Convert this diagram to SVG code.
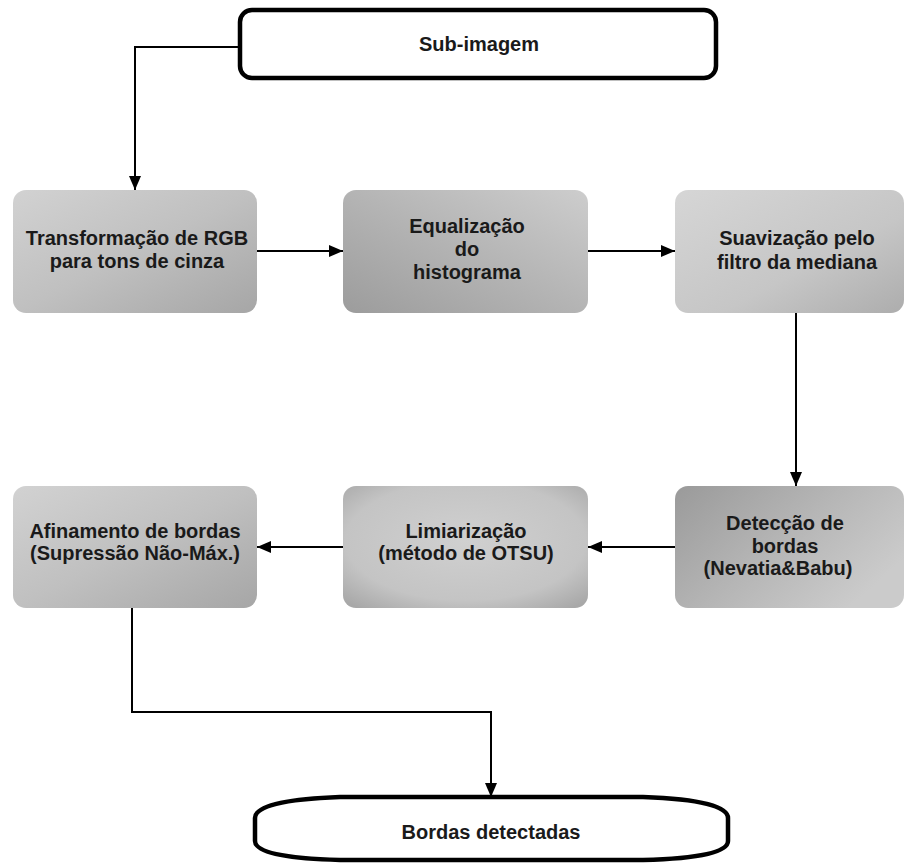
<svg xmlns="http://www.w3.org/2000/svg" width="907" height="863" viewBox="0 0 907 863">
<style>
  .lbl { font-family: "Liberation Sans", Arial, sans-serif; font-weight: bold; font-size: 20px; fill: #1a1a1a; text-anchor: middle; }
  .term { fill: #ffffff; stroke: #000000; stroke-width: 4.5; }
  .conn { fill: none; stroke: #000000; stroke-width: 2; }
</style>
<defs>
  <marker id="arr" viewBox="0 0 14 12" refX="14" refY="6" markerWidth="14" markerHeight="12" markerUnits="userSpaceOnUse" orient="auto">
    <path d="M0,0 L14,6 L0,12 Z" fill="#000000"/>
  </marker>
  <linearGradient id="gA" x1="0" y1="0" x2="1" y2="1">
    <stop offset="0" stop-color="#d2d2d2"/>
    <stop offset="0.5" stop-color="#c0c0c0"/>
    <stop offset="1" stop-color="#a6a6a6"/>
  </linearGradient>
  <linearGradient id="gB" x1="0" y1="1" x2="1" y2="0">
    <stop offset="0" stop-color="#9c9c9c"/>
    <stop offset="0.5" stop-color="#b4b4b4"/>
    <stop offset="1" stop-color="#cdcdcd"/>
  </linearGradient>
  <linearGradient id="gC" x1="0" y1="0" x2="1" y2="1">
    <stop offset="0" stop-color="#d6d6d6"/>
    <stop offset="0.6" stop-color="#c6c6c6"/>
    <stop offset="1" stop-color="#adadad"/>
  </linearGradient>
  <radialGradient id="gD" cx="0.5" cy="0.45" r="0.7">
    <stop offset="0" stop-color="#d0d0d0"/>
    <stop offset="0.7" stop-color="#c4c4c4"/>
    <stop offset="1" stop-color="#a8a8a8"/>
  </radialGradient>
  <linearGradient id="gE" x1="0" y1="0" x2="1" y2="0.6">
    <stop offset="0" stop-color="#9a9a9a"/>
    <stop offset="0.55" stop-color="#b6b6b6"/>
    <stop offset="1" stop-color="#cbcbcb"/>
  </linearGradient>
</defs>
<rect x="0" y="0" width="907" height="863" fill="#ffffff"/>

<g id="connectors">
  <path class="conn" d="M238,47 L135,47 L135,190" marker-end="url(#arr)"/>
  <path class="conn" d="M257,251 L343,251" marker-end="url(#arr)"/>
  <path class="conn" d="M588,251 L675,251" marker-end="url(#arr)"/>
  <path class="conn" d="M796,313 L796,486" marker-end="url(#arr)"/>
  <path class="conn" d="M675,547 L588,547" marker-end="url(#arr)"/>
  <path class="conn" d="M343,547 L257,547" marker-end="url(#arr)"/>
  <path class="conn" d="M132,608 L132,712 L491,712 L491,797" marker-end="url(#arr)"/>
</g>

<g id="n-subimagem">
  <rect class="term" x="240" y="10" width="476" height="68" rx="12" ry="12"/>
  <text class="lbl" x="479" y="51">Sub-imagem</text>
</g>

<g id="n-transformacao">
  <rect x="13" y="190" width="244" height="123" rx="13" ry="13" fill="url(#gA)"/>
  <text class="lbl" x="137" y="245">Transformação de RGB</text>
  <text class="lbl" x="137" y="268">para tons de cinza</text>
</g>

<g id="n-equalizacao">
  <rect x="343" y="190" width="245" height="123" rx="13" ry="13" fill="url(#gB)"/>
  <text class="lbl" x="467" y="233">Equalização</text>
  <text class="lbl" x="467" y="256">do</text>
  <text class="lbl" x="467" y="279">histograma</text>
</g>

<g id="n-suavizacao">
  <rect x="675" y="190" width="229" height="123" rx="13" ry="13" fill="url(#gC)"/>
  <text class="lbl" x="797" y="245">Suavização pelo</text>
  <text class="lbl" x="797" y="269">filtro da mediana</text>
</g>

<g id="n-afinamento">
  <rect x="13" y="486" width="244" height="122" rx="13" ry="13" fill="url(#gA)"/>
  <text class="lbl" x="135" y="538">Afinamento de bordas</text>
  <text class="lbl" x="135" y="560">(Supressão Não-Máx.)</text>
</g>

<g id="n-limiarizacao">
  <rect x="343" y="486" width="245" height="122" rx="13" ry="13" fill="url(#gD)"/>
  <text class="lbl" x="466" y="538">Limiarização</text>
  <text class="lbl" x="466" y="560">(método de OTSU)</text>
</g>

<g id="n-deteccao">
  <rect x="675" y="486" width="229" height="122" rx="13" ry="13" fill="url(#gE)"/>
  <text class="lbl" x="785" y="530">Detecção de</text>
  <text class="lbl" x="785" y="553">bordas</text>
  <text class="lbl" x="778" y="575">(Nevatia&amp;Babu)</text>
</g>

<g id="n-bordas">
  <path class="term" d="M340,797 L643,797 Q728,800 728,818 L728,841 Q728,858 643,860 L340,860 Q255,858 255,841 L255,818 Q255,800 340,797 Z"/>
  <text class="lbl" x="491" y="839">Bordas detectadas</text>
</g>
</svg>
